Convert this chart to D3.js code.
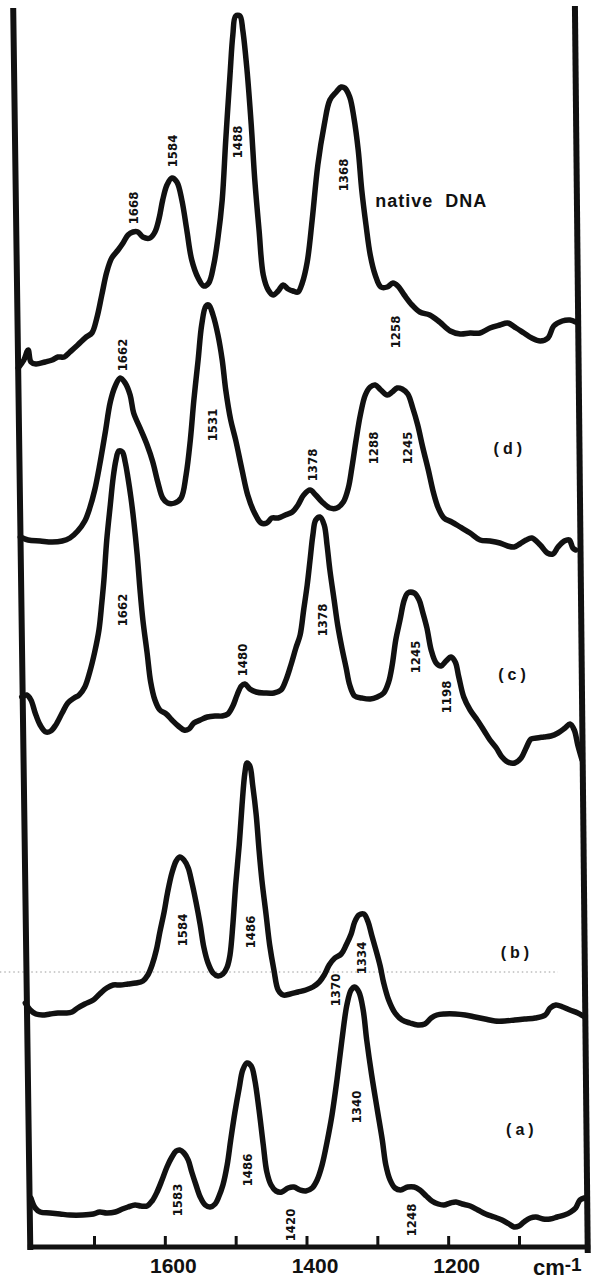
<!DOCTYPE html>
<html>
<head>
<meta charset="utf-8">
<script src="https://cdn.jsdelivr.net/npm/d3@7"></script>
<style>
  html, body { margin: 0; padding: 0; background: #fff; }
  svg { display: block; }
</style>
</head>
<body>
<svg id="chart" width="591" height="1280"></svg>
<script>
// Resonance Raman spectra, stacked. Each point: [wavenumber (cm-1), plotted intensity (a.u., stacked)]
const nativeDNA = [[1807,87.9],[1799,88.7],[1793,89.7],[1789,88.5],[1782,88.3],[1769,88.5],[1759,88.7],[1751,89.0],[1742,89.0],[1734,89.5],[1723,90.2],[1711,91.0],[1703,91.4],[1696,92.9],[1689,95.2],[1682,97.5],[1675,98.9],[1666,99.7],[1659,100.4],[1652,101.2],[1645,101.5],[1638,101.5],[1631,101.0],[1621,100.9],[1614,101.5],[1608,102.9],[1603,104.7],[1597,106.2],[1590,106.9],[1583,106.5],[1576,104.7],[1569,101.7],[1562,98.7],[1553,96.9],[1545,96.1],[1538,96.4],[1531,98.2],[1525,100.9],[1519,104.7],[1514,110.7],[1508,117.2],[1504,121.2],[1500,123.1],[1494,123.1],[1490,121.7],[1484,117.7],[1478,112.2],[1473,106.7],[1467,101.7],[1461,97.2],[1454,95.7],[1447,95.2],[1440,95.6],[1433,96.2],[1426,95.8],[1419,95.6],[1412,95.5],[1406,96.4],[1399,98.5],[1392,102.7],[1384,108.2],[1375,112.2],[1367,114.7],[1358,115.5],[1351,116.0],[1346,115.9],[1339,115.0],[1333,112.9],[1327,109.7],[1322,105.7],[1316,102.2],[1310,99.2],[1303,97.2],[1295,96.0],[1286,96.0],[1278,96.4],[1271,96.1],[1262,95.2],[1251,94.2],[1240,93.5],[1226,93.2],[1212,92.5],[1197,91.6],[1183,91.3],[1169,91.4],[1155,91.4],[1141,91.9],[1127,92.2],[1116,92.4],[1104,91.9],[1093,91.4],[1082,90.9],[1070,90.6],[1059,90.9],[1051,92.1],[1039,92.6],[1028,92.7],[1020,92.5]];

const spectrumD = [[1804,71.0],[1793,70.7],[1776,70.6],[1759,70.5],[1745,70.6],[1734,70.9],[1723,71.6],[1713,72.6],[1706,73.9],[1699,75.7],[1692,78.2],[1684,81.5],[1677,84.5],[1670,86.1],[1663,86.9],[1656,86.4],[1649,85.2],[1644,83.4],[1635,81.9],[1625,80.2],[1617,78.5],[1610,76.5],[1603,74.9],[1596,74.4],[1586,74.4],[1577,74.9],[1570,77.2],[1564,80.7],[1559,84.7],[1553,88.7],[1548,92.2],[1542,94.1],[1538,94.2],[1532,93.2],[1525,91.2],[1519,88.7],[1514,85.7],[1507,82.7],[1500,80.7],[1491,77.7],[1483,75.2],[1474,73.5],[1464,72.4],[1456,72.4],[1449,72.9],[1440,72.9],[1430,73.2],[1420,73.5],[1412,74.2],[1404,75.2],[1395,75.7],[1387,75.2],[1378,74.5],[1367,73.9],[1357,73.9],[1348,74.5],[1341,75.9],[1336,77.9],[1330,80.7],[1324,83.2],[1317,85.2],[1310,86.0],[1303,86.2],[1295,85.7],[1286,85.2],[1279,85.5],[1272,85.9],[1265,85.8],[1257,85.3],[1250,83.9],[1243,82.2],[1236,80.0],[1228,77.7],[1221,75.5],[1214,73.9],[1206,72.9],[1195,72.5],[1183,72.0],[1169,71.4],[1155,70.7],[1141,70.6],[1127,70.4],[1116,70.1],[1107,70.0],[1099,70.3],[1090,70.7],[1082,70.9],[1070,70.2],[1060,69.4],[1052,69.3],[1045,70.0],[1036,70.6],[1029,70.7],[1024,69.9],[1020,69.7]];

const spectrumC = [[1802,55.0],[1795,55.2],[1789,54.7],[1783,53.4],[1776,52.2],[1768,51.5],[1761,51.6],[1754,52.2],[1745,53.4],[1737,54.4],[1728,54.9],[1721,55.2],[1713,56.0],[1706,57.5],[1699,59.5],[1693,61.7],[1689,64.4],[1686,66.7],[1682,70.7],[1677,74.2],[1673,76.9],[1669,78.7],[1665,79.6],[1660,79.5],[1656,78.5],[1652,76.9],[1648,75.0],[1644,72.7],[1639,69.2],[1635,65.7],[1631,62.7],[1625,59.4],[1620,56.5],[1614,54.7],[1607,53.7],[1598,53.3],[1590,52.7],[1581,52.1],[1573,51.7],[1566,51.8],[1559,52.4],[1550,52.7],[1540,53.0],[1529,53.1],[1519,53.1],[1511,53.3],[1504,54.1],[1498,55.2],[1492,56.1],[1487,56.3],[1480,55.8],[1471,55.5],[1459,55.4],[1446,55.4],[1436,55.7],[1429,56.7],[1422,58.2],[1415,59.9],[1409,61.2],[1404,63.7],[1399,66.2],[1395,68.7],[1391,71.2],[1387,72.7],[1381,73.0],[1375,72.2],[1371,70.2],[1367,67.7],[1361,64.7],[1356,62.2],[1350,59.9],[1344,57.9],[1339,56.2],[1332,55.1],[1322,54.9],[1310,54.8],[1300,55.0],[1291,55.4],[1284,56.5],[1279,58.2],[1274,60.7],[1268,62.7],[1262,64.7],[1257,65.4],[1248,65.4],[1241,64.7],[1236,63.5],[1230,61.9],[1224,59.7],[1217,58.4],[1210,58.1],[1203,58.6],[1196,59.0],[1190,58.5],[1185,57.0],[1178,55.0],[1169,53.7],[1159,52.7],[1149,51.6],[1141,50.7],[1132,49.9],[1124,49.0],[1116,48.5],[1106,48.4],[1097,48.9],[1090,49.9],[1083,50.8],[1075,50.9],[1065,51.0],[1055,51.1],[1045,51.4],[1035,51.9],[1028,52.3],[1022,51.7],[1017,50.2],[1011,48.7]];

const spectrumB = [[1797,24.4],[1790,23.7],[1782,23.3],[1773,23.2],[1762,23.3],[1751,23.4],[1740,23.4],[1731,23.5],[1723,23.9],[1713,24.3],[1701,24.7],[1692,25.3],[1682,25.9],[1673,26.2],[1663,26.2],[1652,26.3],[1641,26.4],[1631,26.6],[1624,27.2],[1618,28.2],[1612,29.7],[1607,31.5],[1601,33.5],[1596,35.5],[1590,37.4],[1584,38.6],[1579,39.0],[1573,38.7],[1567,37.9],[1562,36.5],[1556,34.5],[1550,32.2],[1545,30.0],[1539,28.4],[1532,27.4],[1525,27.1],[1518,27.3],[1512,28.0],[1508,29.2],[1504,32.2],[1500,36.2],[1495,40.2],[1491,44.2],[1487,47.4],[1484,48.4],[1480,48.1],[1476,46.2],[1471,43.2],[1467,39.7],[1463,36.7],[1457,33.2],[1452,30.2],[1446,27.7],[1440,25.7],[1433,25.2],[1423,25.3],[1412,25.5],[1401,25.7],[1391,26.0],[1382,26.5],[1375,27.2],[1368,28.2],[1360,28.9],[1351,29.3],[1344,30.2],[1337,31.3],[1332,32.5],[1326,33.2],[1319,33.3],[1313,32.5],[1308,31.2],[1302,29.7],[1296,28.1],[1291,26.4],[1284,24.7],[1275,23.4],[1265,22.7],[1254,22.4],[1243,22.2],[1233,22.3],[1224,22.9],[1216,23.2],[1205,23.3],[1190,23.3],[1176,23.2],[1162,23.0],[1148,22.8],[1134,22.6],[1120,22.6],[1106,22.7],[1092,22.8],[1077,22.9],[1063,23.2],[1056,23.9],[1048,24.2],[1038,24.0],[1028,23.7],[1017,23.4],[1007,23.0]];

const spectrumA = [[1789,4.9],[1783,3.9],[1776,3.5],[1762,3.4],[1748,3.3],[1734,3.2],[1716,3.2],[1701,3.3],[1692,3.5],[1682,3.4],[1670,3.5],[1660,3.8],[1652,4.0],[1642,4.2],[1634,4.1],[1625,4.1],[1618,4.6],[1611,5.5],[1604,6.7],[1597,8.0],[1590,9.0],[1584,9.6],[1579,9.7],[1573,9.4],[1567,8.7],[1562,7.5],[1556,6.2],[1550,5.0],[1543,4.2],[1536,4.0],[1529,4.3],[1524,5.0],[1518,6.2],[1512,8.2],[1507,10.7],[1501,13.5],[1495,15.9],[1490,17.7],[1484,18.4],[1478,18.1],[1473,16.7],[1467,13.7],[1461,10.2],[1456,7.5],[1450,6.2],[1443,5.6],[1435,5.5],[1426,5.9],[1418,6.0],[1409,5.7],[1401,5.6],[1392,5.9],[1385,6.7],[1378,8.2],[1371,10.5],[1364,13.2],[1357,16.7],[1350,20.7],[1343,24.2],[1337,25.7],[1332,26.0],[1326,25.5],[1320,23.7],[1315,20.7],[1308,17.2],[1300,13.7],[1293,10.7],[1288,8.2],[1282,6.7],[1275,5.9],[1267,5.7],[1257,6.0],[1248,6.0],[1240,5.7],[1231,5.1],[1223,4.6],[1214,4.3],[1206,4.2],[1197,4.4],[1189,4.5],[1180,4.3],[1169,4.1],[1158,3.7],[1147,3.3],[1135,3.0],[1124,2.7],[1114,2.3],[1107,2.0],[1100,2.1],[1093,2.5],[1084,2.9],[1076,3.0],[1066,2.8],[1056,2.8],[1046,3.0],[1036,3.2],[1027,3.5],[1020,3.9],[1014,4.7],[1008,4.9]];

// Axis ticks and labels (cm-1)
const tickValues = [1700, 1600, 1500, 1400, 1300, 1200, 1100];
const tickLabels = [1600, 1400, 1200];
const unitLabel = "cm";
const unitExponent = "-1";

// Chart paper edges: [wavenumber at top, wavenumber at bottom]
const paperLeft = [1814, 1790];
const paperRight = [1021, 1003];
const paperTop = 123.6;

// Peak assignments written beside the bands: text, wavenumber, level (a.u.)
const peakLabels = [
  ["1668", 1645, 103.9], ["1584", 1590, 109.6], ["1488", 1498, 110.5], ["1368", 1348, 107.2], ["1258", 1275, 91.5],
  ["1662", 1660, 89.2], ["1531", 1533, 82.2], ["1378", 1392, 78.2], ["1288", 1306, 79.9], ["1245", 1258, 79.9],
  ["1662", 1660, 63.7], ["1480", 1490, 58.7], ["1378", 1378, 62.7], ["1245", 1247, 59.0], ["1198", 1202, 55.0],
  ["1584", 1576, 31.7], ["1486", 1480, 31.5], ["1334", 1322, 28.9], ["1370", 1360, 25.7],
  ["1583", 1583, 4.7], ["1486", 1484, 7.7], ["1420", 1423, 2.2], ["1340", 1329, 14.0], ["1248", 1252, 2.7]
];

// Trace names: text, wavenumber, level (a.u.), anchor
const traceNames = [
  ["native DNA", 1303, 104.0, "start"],
  ["(d)", 1113, 79.3, "middle"],
  ["(c)", 1107, 56.7, "middle"],
  ["(b)", 1103, 28.9, "middle"],
  ["(a)", 1096, 11.2, "middle"]
];

const traces = [nativeDNA, spectrumD, spectrumC, spectrumB, spectrumA];

const svg = d3.select("#chart");
svg.append("rect").attr("width", 591).attr("height", 1280).attr("fill", "#fff");

const x = d3.scaleLinear().domain([1700, 1100]).range([94, 519]);
const y = d3.scaleLinear().domain([0, 124]).range([1247, 7]);

// faint ruled line across the paper
svg.append("line")
  .attr("x1", x(1833)).attr("x2", x(1045))
  .attr("y1", y(27.5)).attr("y2", y(27.5))
  .attr("stroke", "#9a9a9a").attr("stroke-width", 1)
  .attr("stroke-dasharray", "1.5,3");

// paper frame
const frame = svg.append("g").attr("stroke", "#111").attr("fill", "none").attr("stroke-linecap", "square");
frame.append("line")
  .attr("x1", x(paperLeft[0])).attr("y1", y(paperTop))
  .attr("x2", x(paperLeft[1])).attr("y2", y(0))
  .attr("stroke-width", 6);
frame.append("line")
  .attr("x1", x(paperRight[0])).attr("y1", y(paperTop + 0.2))
  .attr("x2", x(paperRight[1])).attr("y2", y(-0.3))
  .attr("stroke-width", 6);
frame.append("line")
  .attr("x1", x(paperLeft[1])).attr("y1", y(0))
  .attr("x2", x(paperRight[1])).attr("y2", y(0))
  .attr("stroke-width", 5);

// wavenumber axis: ticks point up into the paper
const axis = d3.axisBottom(x)
  .tickValues(tickValues)
  .tickSize(-11)
  .tickSizeOuter(0)
  .tickPadding(11)
  .tickFormat(d => tickLabels.includes(d) ? String(d) : "");
const ax = svg.append("g").attr("transform", `translate(0,${y(0)})`).call(axis);
ax.select(".domain").remove();
ax.selectAll(".tick line").attr("stroke", "#111").attr("stroke-width", 3);
ax.selectAll(".tick text")
  .attr("fill", "#111")
  .attr("dx", 8)
  .style("font-family", "'Liberation Sans', Arial, sans-serif")
  .style("font-weight", "bold")
  .style("font-size", "21px");

const unit = svg.append("text")
  .attr("x", 533).attr("y", y(0) + 28)
  .attr("fill", "#111")
  .style("font-family", "'Liberation Sans', Arial, sans-serif")
  .style("font-weight", "bold")
  .style("font-size", "22px")
  .text(unitLabel);
unit.append("tspan").attr("dy", -4).style("font-size", "19px").text(unitExponent);

// spectra
const line = d3.line()
  .x(d => x(d[0]))
  .y(d => y(d[1]))
  .curve(d3.curveCatmullRom.alpha(0.5));

svg.append("g").selectAll("path")
  .data(traces)
  .join("path")
  .attr("d", line)
  .attr("fill", "none")
  .attr("stroke", "#111")
  .attr("stroke-width", 5.5)
  .attr("stroke-linejoin", "round")
  .attr("stroke-linecap", "round");

// band positions, written vertically
svg.append("g").selectAll("text")
  .data(peakLabels)
  .join("text")
  .attr("transform", d => `translate(${x(d[1])},${y(d[2])}) rotate(-90)`)
  .attr("text-anchor", "middle")
  .attr("dy", "0.36em")
  .attr("fill", "#111")
  .style("font-family", "'DejaVu Sans Condensed', 'DejaVu Sans', sans-serif")
  .style("font-weight", "bold")
  .style("font-size", "13px")
  .text(d => d[0]);

// spectrum names
svg.append("g").selectAll("text")
  .data(traceNames)
  .join("text")
  .attr("x", d => x(d[1]))
  .attr("y", d => y(d[2]))
  .attr("text-anchor", d => d[3])
  .attr("fill", "#111")
  .style("font-family", "'Liberation Sans', Arial, sans-serif")
  .style("font-weight", "bold")
  .style("font-size", d => d[0] === "native DNA" ? "18px" : "16px")
  .style("letter-spacing", d => d[0] === "native DNA" ? "1px" : "4px")
  .style("word-spacing", "6px")
  .text(d => d[0]);
</script>
</body>
</html>
